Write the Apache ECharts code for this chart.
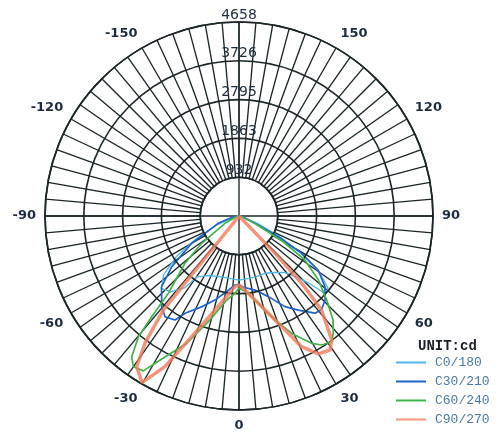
<!DOCTYPE html>
<html><head><meta charset="utf-8">
<script src="https://cdn.jsdelivr.net/npm/echarts@6/dist/echarts.min.js"></script>
<style>html,body{margin:0;padding:0;background:#fff}#c{width:504px;height:436px}</style>
</head><body><div id="c"></div>
<script>
const seriesNames = ['C0/180', 'C30/210', 'C60/240', 'C90/270'];
const maxIntensity = 4658;
const ringCount = 5;
const angleLabelStep = 30;

const c0Angles = [-90, -80, -68, -62, -57, -52, -47, -42, -37, -34.7, -26, -15, 0, 15, 24.5, 32, 39, 43, 46, 48, 51, 55, 59, 63, 68, 80, 90];
const c0Values = [0, 100, 550, 1150, 1800, 2300, 2550, 2450, 2150, 1780, 1590, 1520, 1540, 1520, 1510, 1600, 1750, 2000, 2300, 2800, 2750, 2350, 1750, 1100, 500, 80, 0];

const c30Angles = [-90, -80, -70.6, -60, -53, -47.6, -40.4, -36.3, -31.6, -29, -22.4, -16, -8.2, -3.3, 0, 2.2, 12.2, 20, 26.9, 32.2, 38, 41.3, 45.7, 50.6, 55.7, 59.2, 62.2, 65.5, 75, 90];
const c30Values = [0, 150, 530, 1310, 2020, 2520, 2860, 3000, 2930, 2670, 2360, 2100, 1800, 1660, 1640, 1700, 1820, 2060, 2440, 2670, 2960, 3000, 2890, 2670, 2300, 1750, 1070, 420, 100, 0];

const c60Angles = [-90, -70, -62.5, -53.8, -48.8, -42.4, -40.9, -39.8, -37.3, -35, -31.7, -28.7, -22.3, -15.6, -8.3, -3, 0, 6.9, 14, 19.1, 24.2, 29.7, 32.7, 36.4, 38.8, 42.1, 46.2, 51.1, 56.3, 60, 65, 75, 90];
const c60Values = [0, 100, 380, 1110, 1720, 2520, 3200, 3770, 4250, 4420, 4370, 3940, 3300, 2590, 2040, 1860, 1730, 1870, 2250, 2640, 3090, 3520, 3680, 3750, 3610, 3370, 2920, 2450, 1900, 1200, 400, 50, 0];

const c90Angles = [-90, -41, -38.8, -36.5, -34.2, -30.2, -26.2, -21.4, -13, -3.2, 0, 2, 10.8, 16.8, 22, 25.6, 29.9, 34.2, 36.8, 41.3, 43, 44, 46, 90];
const c90Values = [0, 0, 2900, 3790, 4370, 4630, 4030, 3110, 2230, 1700, 1660, 1700, 2050, 2440, 2950, 3480, 3820, 3890, 3720, 3000, 2210, 1240, 0, 0];

const pairs = (angles, values) => angles.map((a, i) => [values[i], a]);
const ringStep = maxIntensity / ringCount;
const gridColor = '#1b2628';
const labelColor = '#1b2c40';

const chart = echarts.init(document.getElementById('c'), null, {renderer: 'canvas'});
chart.setOption({
  backgroundColor: '#ffffff',
  animation: false,
  title: {
    text: 'UNIT:cd', left: 413, top: 334,
    textStyle: {fontFamily: 'Liberation Mono', fontWeight: 'bold', fontSize: 14, color: '#1a1f2a'}
  },
  legend: {
    data: seriesNames, orient: 'vertical', left: 395, top: 356, padding: 0,
    itemWidth: 30, itemHeight: 14, itemGap: 6,
    itemStyle: {opacity: 0},
    textStyle: {fontFamily: 'Liberation Mono', fontSize: 13, color: '#4a78a8', padding: [0, 0, 0, 4]}
  },
  polar: [
    {center: [239, 216], radius: [38.8, 194]},
    {center: [239, 216], radius: [0, 194]}
  ],
  angleAxis: [
    {
      polarIndex: 0, type: 'value', min: -180, max: 180, interval: 5,
      startAngle: 90, clockwise: false,
      axisLine: {show: true, lineStyle: {color: gridColor, width: 1.6}},
      axisTick: {show: false},
      axisLabel: {
        margin: 9, color: labelColor, fontFamily: 'DejaVu Sans', fontSize: 13, fontWeight: 'bold',
        formatter: v => (v % angleLabelStep === 0 && Math.abs(v) !== 180) ? String(v) : ''
      },
      splitLine: {show: true, lineStyle: {color: gridColor, width: 1.35}}
    },
    {
      polarIndex: 1, type: 'value', min: -180, max: 180, interval: 90,
      startAngle: 90, clockwise: false,
      axisLine: {show: false}, axisTick: {show: false}, axisLabel: {show: false},
      splitLine: {show: true, lineStyle: {color: gridColor, width: 1.35}}
    }
  ],
  radiusAxis: [
    {
      polarIndex: 0, type: 'value', min: ringStep, max: maxIntensity, interval: ringStep,
      axisLine: {show: false}, axisTick: {show: false},
      axisLabel: {
        margin: 0, align: 'center', verticalAlign: 'bottom', color: labelColor,
        fontFamily: 'DejaVu Sans', fontSize: 14,
        formatter: v => String(Math.round(v))
      },
      splitLine: {show: true, lineStyle: {color: gridColor, width: 1.6}},
      z: 5
    },
    {
      polarIndex: 1, type: 'value', min: 0, max: maxIntensity,
      axisLine: {show: false}, axisTick: {show: false}, axisLabel: {show: false},
      splitLine: {show: false}
    }
  ],
  series: [
    {name: seriesNames[0], type: 'line', coordinateSystem: 'polar', polarIndex: 1, symbol: 'none',
     data: pairs(c0Angles, c0Values), lineStyle: {color: '#4fb6ea', width: 1.3}, itemStyle: {color: '#4fb6ea'}, z: 3},
    {name: seriesNames[1], type: 'line', coordinateSystem: 'polar', polarIndex: 1, symbol: 'none',
     data: pairs(c30Angles, c30Values), lineStyle: {color: '#1f63cf', width: 1.7}, itemStyle: {color: '#1f63cf'}, z: 4},
    {name: seriesNames[2], type: 'line', coordinateSystem: 'polar', polarIndex: 1, symbol: 'none',
     data: pairs(c60Angles, c60Values), lineStyle: {color: '#3fb447', width: 1.7}, itemStyle: {color: '#3fb447'}, z: 5},
    {name: seriesNames[3], type: 'line', coordinateSystem: 'polar', polarIndex: 1, symbol: 'none',
     data: pairs(c90Angles, c90Values), lineStyle: {color: '#f07a5a', width: 3.5, opacity: 0.8}, itemStyle: {color: '#f07a5a'}, z: 6}
  ]
});
</script></body></html>
